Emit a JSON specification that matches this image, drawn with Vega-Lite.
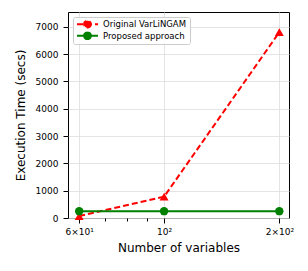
{
  "$schema": "https://vega.github.io/schema/vega-lite/v6.json",
  "width": 221,
  "height": 206,
  "autosize": "none",
  "padding": {"left": 68, "top": 12, "right": 19, "bottom": 53},
  "background": "white",
  "config": {
    "font": "DejaVu Sans",
    "view": {"stroke": "black", "strokeWidth": 1},
    "axis": {
      "domain": false,
      "tickColor": "black",
      "labelColor": "black",
      "titleColor": "black",
      "labelFont": "DejaVu Sans",
      "titleFont": "DejaVu Sans",
      "labelFontSize": 9,
      "titleFontSize": 12,
      "titleFontWeight": "normal",
      "gridColor": "#dddddd",
      "gridWidth": 0.8
    }
  },
  "data": {
    "values": [
      {"n": 60, "time": 70, "series": "Original VarLiNGAM"},
      {"n": 100, "time": 780, "series": "Original VarLiNGAM"},
      {"n": 200, "time": 6800, "series": "Original VarLiNGAM"},
      {"n": 60, "time": 250, "series": "Proposed approach"},
      {"n": 100, "time": 250, "series": "Proposed approach"},
      {"n": 200, "time": 250, "series": "Proposed approach"}
    ]
  },
  "encoding": {
    "x": {
      "field": "n",
      "type": "quantitative",
      "scale": {"type": "log", "domain": [56.1, 212], "nice": false, "zero": false},
      "axis": {
        "title": "Number of variables",
        "values": [60, 70, 80, 90, 100, 200],
        "labelExpr": "datum.value == 60 ? '6×10¹' : datum.value == 100 ? '10²' : datum.value == 200 ? '2×10²' : ''",
        "tickSize": {"condition": {"test": "datum.value == 60 || datum.value == 100 || datum.value == 200", "value": 5}, "value": 3},
        "gridOpacity": {"condition": {"test": "datum.value == 60 || datum.value == 100 || datum.value == 200", "value": 1}, "value": 0},
        "labelPadding": 4,
        "titlePadding": 6,
        "labelFlush": false,
        "labelOverlap": false
      }
    },
    "y": {
      "field": "time",
      "type": "quantitative",
      "scale": {"domain": [0, 7540], "nice": false},
      "axis": {
        "title": "Execution Time (secs)",
        "values": [0, 1000, 2000, 3000, 4000, 5000, 6000, 7000],
        "format": "d",
        "tickSize": 5,
        "labelPadding": 5,
        "titlePadding": 8
      }
    },
    "color": {
      "field": "series",
      "type": "nominal",
      "scale": {"domain": ["Original VarLiNGAM", "Proposed approach"], "range": ["#ff0000", "#008000"]},
      "legend": {
        "orient": "top-left",
        "offset": 5,
        "title": null,
        "padding": 3,
        "strokeColor": "#cccccc",
        "fillColor": "rgba(255,255,255,0.8)",
        "cornerRadius": 2,
        "labelFontSize": 8.5,
        "labelFont": "DejaVu Sans",
        "labelColor": "black",
        "symbolSize": 49,
        "symbolOffset": 7,
        "labelOffset": 11,
        "rowPadding": 2.5,
        "clipHeight": 8.5,
        "symbolOpacity": 1,
        "symbolStrokeWidth": 1.8,
        "encode": {
          "symbols": {
            "update": {
              "shape": {"condition": {"test": "datum.value == 'Original VarLiNGAM'", "value": "M-3,0H3M0,-1.2L1.2,0.9L-1.2,0.9Z"}, "value": "M-3,0H3M1,0A1,1,0,1,1,-1,0A1,1,0,1,1,1,0Z"},
              "size": {"value": 49}
            }
          }
        }
      }
    }
  },
  "layer": [
    {
      "mark": {"type": "line", "strokeWidth": 2},
      "encoding": {
        "strokeDash": {
          "field": "series",
          "type": "nominal",
          "scale": {"domain": ["Original VarLiNGAM", "Proposed approach"], "range": [[6, 3], [1, 0]]},
          "legend": null
        }
      }
    },
    {
      "mark": {"type": "point", "filled": true, "opacity": 1},
      "encoding": {
        "shape": {"condition": {"test": "datum.series == 'Original VarLiNGAM'", "value": "triangle-up"}, "value": "circle"},
        "size": {"condition": {"test": "datum.series == 'Original VarLiNGAM'", "value": 80}, "value": 70}
      }
    }
  ]
}
